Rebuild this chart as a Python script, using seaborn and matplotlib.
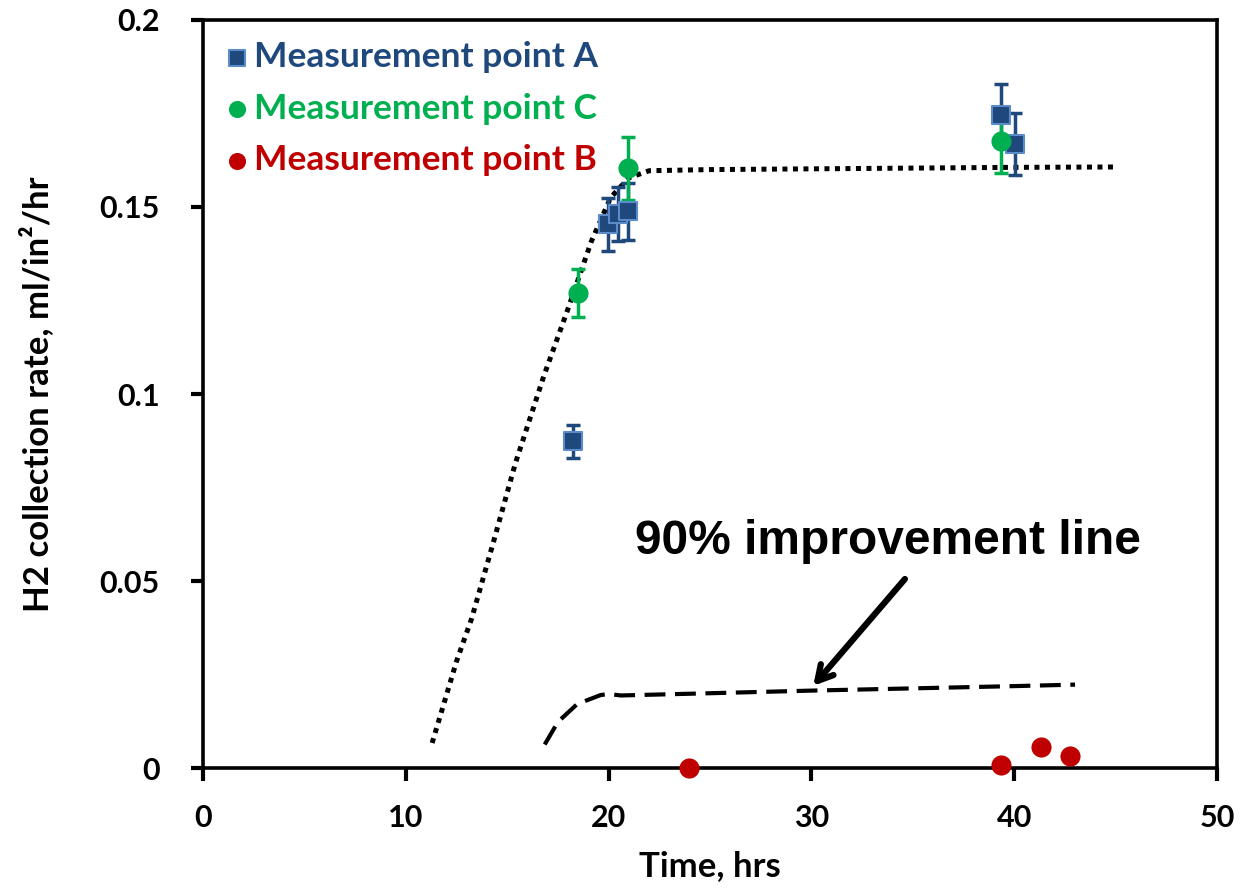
import numpy as np
import pandas as pd
import seaborn as sns
import matplotlib.pyplot as plt

# Measurement point A (blue squares)
a_time = [18.25, 19.95, 20.45, 20.95, 39.35, 40.05]
a_rate = [0.0874, 0.1454, 0.1481, 0.1488, 0.1746, 0.1668]
a_err = [0.0044, 0.0071, 0.0073, 0.0075, 0.0083, 0.0083]

# Measurement point C (green circles)
c_time = [18.5, 20.95, 39.35]
c_rate = [0.1270, 0.1603, 0.1676]
c_err = [0.0063, 0.0083, 0.0085]

# Measurement point B (red circles)
b_time = [23.95, 39.35, 41.3, 42.75]
b_rate = [0.0000, 0.0008, 0.0056, 0.0032]

# dotted fit curve
fit_time = [11.3, 12.5, 13.25, 14.3, 15.4, 16.8, 18.0, 19.15, 20.1, 21.0, 22.0, 25, 30, 35, 40, 45]
fit_rate = [0.0067, 0.0285, 0.040, 0.060, 0.0814, 0.1047, 0.1228, 0.1408, 0.1525, 0.1578, 0.1597,
            0.1600, 0.1602, 0.1604, 0.1606, 0.1607]

# dashed 90% improvement line
imp_time = [16.85, 17.5, 18.45, 19.6, 20.0, 20.6, 25, 30, 35, 40, 43]
imp_rate = [0.0063, 0.0123, 0.0171, 0.0195, 0.0198, 0.0194, 0.0200, 0.0207, 0.0213, 0.0219, 0.0223]

blue = "#1F497D"
green = "#00B050"
red = "#C00000"

sns.set_theme(style="white")
plt.rcParams['font.family'] = ['Lato', 'DejaVu Sans']
plt.rcParams['font.weight'] = 'bold'
plt.rcParams['text.color'] = 'black'
plt.rcParams['axes.labelcolor'] = 'black'

fig = plt.figure(figsize=(12.49, 8.88), dpi=100)
ax = fig.add_axes([0.1625, 0.1351, 0.8119, 0.8424])

# curves
sns.lineplot(x=fit_time, y=fit_rate, ax=ax, color="black", lw=3.6, sort=False,
             linestyle=(0, (1, 1.1)), dash_capstyle='butt')
sns.lineplot(x=imp_time, y=imp_rate, ax=ax, color="black", lw=3.0, sort=False,
             linestyle=(0, (5, 2.3)))

# error bars
ax.errorbar(a_time, a_rate, yerr=a_err, fmt='none', ecolor=blue, elinewidth=2.5,
            capsize=5, capthick=2.5, zorder=3)
ax.errorbar(c_time, c_rate, yerr=c_err, fmt='none', ecolor=green, elinewidth=2.5,
            capsize=5, capthick=2.5, zorder=3)

# points
sns.scatterplot(x=a_time, y=a_rate, ax=ax, marker='s', s=185, color=blue,
                edgecolor="#5B8BC9", linewidth=1.5, label="Measurement point A", zorder=4)
sns.scatterplot(x=c_time, y=c_rate, ax=ax, marker='o', s=210, color=green,
                edgecolor=green, linewidth=0, label="Measurement point C", zorder=4)
sns.scatterplot(x=b_time, y=b_rate, ax=ax, marker='o', s=210, color=red,
                edgecolor=red, linewidth=0, label="Measurement point B", zorder=4, clip_on=False)

ax.set_xlim(0, 50)
ax.set_ylim(0, 0.2)
ax.set_xticks([0, 10, 20, 30, 40, 50])
ax.set_yticks([0, 0.05, 0.1, 0.15, 0.2])
ax.set_yticklabels(["0", "0.05", "0.1", "0.15", "0.2"])
ax.tick_params(axis='both', direction='out', length=9, width=3, labelsize=22,
               colors='black', left=True, bottom=True)
ax.tick_params(axis='x', pad=17)
ax.tick_params(axis='y', pad=22)
for lbl in ax.get_xticklabels() + ax.get_yticklabels():
    lbl.set_fontweight('bold')
for sp in ax.spines.values():
    sp.set_linewidth(2.6)
    sp.set_color('black')

ax.set_xlabel("Time, hrs", fontsize=25, fontweight='bold', labelpad=13)
ax.set_ylabel("H2 collection rate, ml/in²/hr", fontsize=25, fontweight='bold', labelpad=33)

ax.annotate("90% improvement line", xy=(30.0, 0.0214), xytext=(21.3, 0.0605),
            fontsize=34.5, fontweight='bold', va='center', ha='left',
            family=['Liberation Sans', 'DejaVu Sans'])
ax.annotate("", xy=(30.0, 0.0214), xytext=(34.7, 0.0511),
            arrowprops=dict(arrowstyle='->,head_length=0.9,head_width=0.5', lw=4.5, color='black'))

leg = ax.legend(loc='upper left', frameon=False, prop={'family': 'Lato', 'weight': 'bold', 'size': 25.5},
                handletextpad=0.15, labelspacing=0.55, borderaxespad=0.2, borderpad=0.4,
                handlelength=0.7, markerscale=0.85)
for txt, col in zip(leg.get_texts(), [blue, green, red]):
    txt.set_color(col)

fig.savefig("out.png", dpi=100)
